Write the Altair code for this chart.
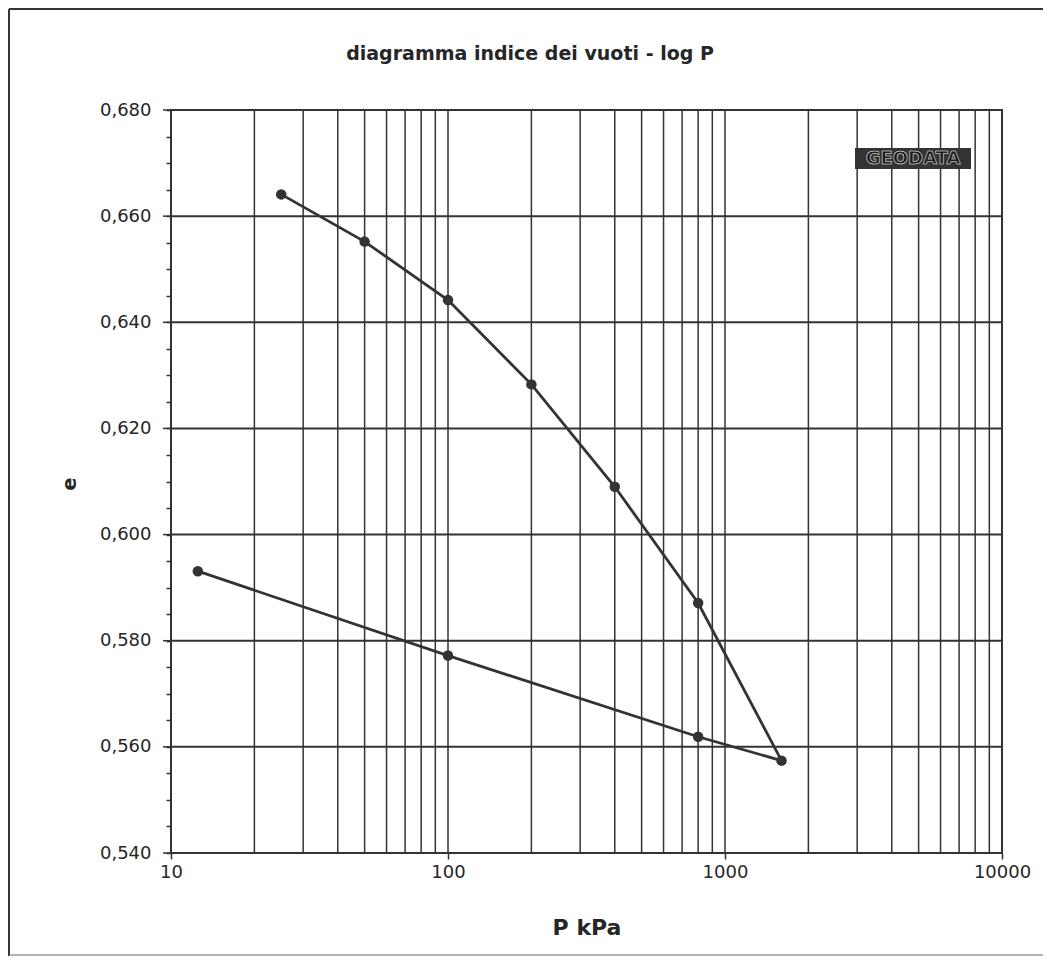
import altair as alt
import pandas as pd

# ---- data ----
p_load = [25, 50, 100, 200, 400, 800, 1600]
e_load = [0.6641, 0.6552, 0.6442, 0.6283, 0.6090, 0.5871, 0.5574]
p_unload = [800, 100, 12.5]
e_unload = [0.5619, 0.5772, 0.5931]

x_grid = [20, 30, 40, 50, 60, 70, 80, 90, 100,
          200, 300, 400, 500, 600, 700, 800, 900, 1000,
          2000, 3000, 4000, 5000, 6000, 7000, 8000, 9000]
y_grid = [0.56, 0.58, 0.60, 0.62, 0.64, 0.66]
y_major = [0.54, 0.56, 0.58, 0.60, 0.62, 0.64, 0.66, 0.68]
y_ticks = [0.540, 0.545, 0.550, 0.555, 0.560, 0.565, 0.570, 0.575,
           0.580, 0.585, 0.590, 0.595, 0.600, 0.605, 0.610, 0.615,
           0.620, 0.625, 0.630, 0.635, 0.640, 0.645, 0.650, 0.655,
           0.660, 0.665, 0.670, 0.675, 0.680]
x_ticks = [10, 100, 1000, 10000]

title_text = "diagramma indice dei vuoti - log P"
x_title = "P  kPa"
y_title = "e"
logo_text = "GEODATA"

rows = []
k = 0
for p, e in zip(p_load, e_load):
    rows.append({"P": p, "e": e, "ord": k})
    k += 1
for p, e in zip(p_unload, e_unload):
    rows.append({"P": p, "e": e, "ord": k})
    k += 1
df = pd.DataFrame(rows)

INK = "#333333"
TXT = "#262626"
FONT = "DejaVu Sans"

xscale = alt.Scale(type="log", domain=[10, 10000], nice=False)
yscale = alt.Scale(domain=[0.54, 0.68], nice=False, zero=False)

x_axis = alt.Axis(
    values=x_ticks, grid=False, domain=False, title=None,
    tickSize=6, tickColor=INK, tickWidth=1.5,
    labelFontSize=18, labelFont=FONT, labelColor=TXT,
    labelPadding=4, labelFlush=False, labelExpr="format(datum.value, 'd')",
)
y_axis = alt.Axis(
    values=y_ticks, grid=False, domain=False, title=None,
    tickSize=5, tickColor=INK, tickWidth=1.5,
    labelFontSize=18, labelFont=FONT, labelColor=TXT, labelPadding=15,
    labelExpr="abs(datum.value*50 - round(datum.value*50)) < 0.01 ? replace(format(datum.value, '.3f'), '.', ',') : ''",
)

one = alt.Data(values=[{"a": 1}])

vgrid = alt.Chart(pd.DataFrame({"P": x_grid})).mark_rule(
    color=INK, strokeWidth=1.5
).encode(x=alt.X("P:Q", scale=xscale, axis=x_axis))

hgrid = alt.Chart(pd.DataFrame({"e": y_grid})).mark_rule(
    color=INK, strokeWidth=2
).encode(y=alt.Y("e:Q", scale=yscale, axis=y_axis))

major_ticks = alt.Chart(pd.DataFrame({"e": y_major})).mark_rule(
    color=INK, strokeWidth=1.5
).encode(
    y=alt.Y("e:Q", scale=yscale, axis=y_axis),
    x=alt.value(-8), x2=alt.value(0),
)

line = alt.Chart(df).mark_line(
    color=INK, strokeWidth=2.8,
    point=alt.OverlayMarkDef(filled=True, size=110, color=INK, opacity=1),
).encode(
    x=alt.X("P:Q", scale=xscale, axis=x_axis),
    y=alt.Y("e:Q", scale=yscale, axis=y_axis),
    order="ord:Q",
)

title = alt.Chart(one).mark_text(
    font=FONT, fontSize=19, fontWeight="bold", color=TXT,
    align="center", baseline="alphabetic",
).encode(x=alt.value(359), y=alt.value(-50), text=alt.value(title_text))

xt = alt.Chart(one).mark_text(
    font=FONT, fontSize=22, fontWeight="bold", color=TXT,
    align="center", baseline="middle",
).encode(x=alt.value(416), y=alt.value(818), text=alt.value(x_title))

yt = alt.Chart(one).mark_text(
    font=FONT, fontSize=19, fontWeight="bold", color=TXT,
    align="center", baseline="middle", angle=270,
).encode(x=alt.value(-101), y=alt.value(374), text=alt.value(y_title))

logo_box = alt.Chart(one).mark_rect(color="#333333").encode(
    x=alt.value(684), x2=alt.value(800), y=alt.value(38), y2=alt.value(59)
)
logo = alt.Chart(one).mark_text(
    font=FONT, fontSize=18, fontWeight="bold", color="#1a1a1a",
    stroke="#ffffff", strokeWidth=0.5, align="center", baseline="middle",
).encode(x=alt.value(742), y=alt.value(49), text=alt.value(logo_text))

frame_left = alt.Chart(one).mark_rule(color=INK, strokeWidth=2).encode(
    x=alt.value(-162), y=alt.value(-101), y2=alt.value(846)
)
frame_top = alt.Chart(one).mark_rule(color=INK, strokeWidth=2).encode(
    x=alt.value(-162), x2=alt.value(872), y=alt.value(-101)
)
frame_bottom = alt.Chart(one).mark_rule(color="#999999", strokeWidth=1.5).encode(
    x=alt.value(-162), x2=alt.value(872), y=alt.value(845)
)

chart = alt.layer(
    vgrid, hgrid, major_ticks, line, title, xt, yt, logo_box, logo,
    frame_left, frame_top, frame_bottom,
).properties(
    width=831, height=743,
    padding={"left": 163, "top": 102, "right": 41, "bottom": 104},
    autosize=alt.AutoSizeParams(type="none"),
    background="white",
).configure_view(
    stroke=INK, strokeWidth=2,
)

chart.save("out.html", embed_options={"renderer": "svg", "actions": False})
